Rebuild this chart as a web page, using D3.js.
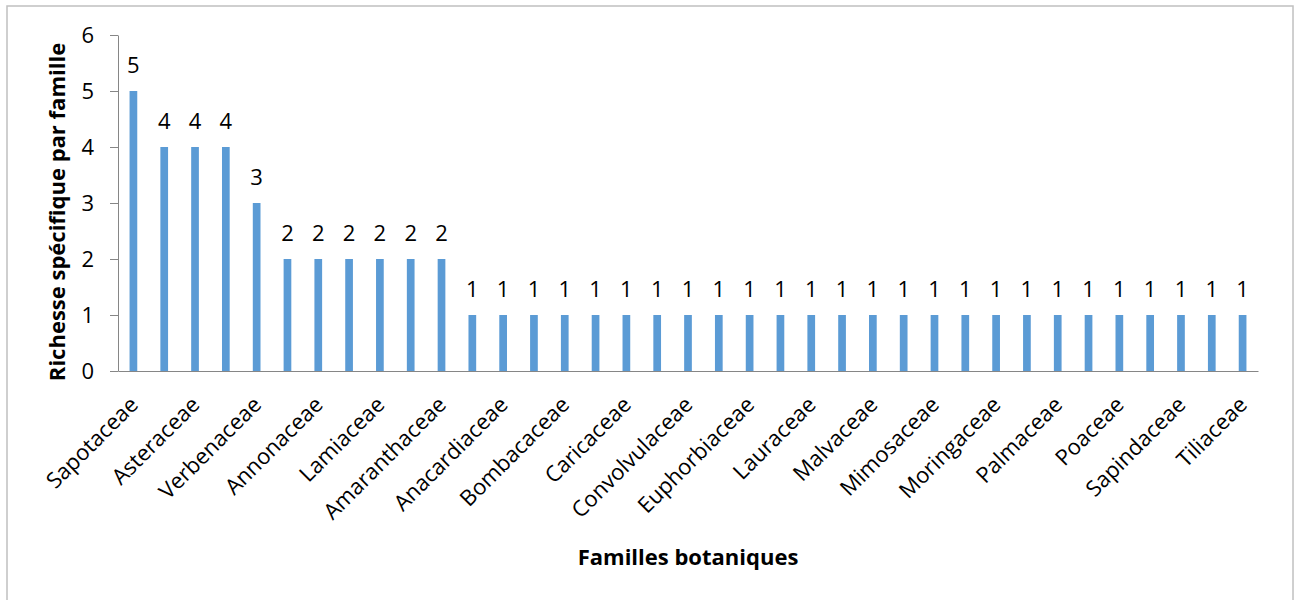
<!DOCTYPE html>
<html><head><meta charset="utf-8">
<script src="https://cdn.jsdelivr.net/npm/d3@7"></script>
<style>body{margin:0;background:#fff}svg{display:block}</style>
</head><body>
<svg id="c" width="1298" height="600"></svg>
<script>
const families = ["Sapotaceae","Fabaceae","Asteraceae","Rubiaceae","Verbenaceae","Apocynaceae","Annonaceae","Cucurbitaceae","Lamiaceae","Solanaceae","Amaranthaceae","Amaryllidaceae","Anacardiaceae","Bignoniaceae","Bombacaceae","Capparaceae","Caricaceae","Combretaceae","Convolvulaceae","Ebenaceae","Euphorbiaceae","Liliaceae","Lauraceae","Meliaceae","Malvaceae","Menispermaceae","Mimosaceae","Moraceae","Moringaceae","Myrtaceae","Palmaceae","Piperaceae","Poaceae","Rutaceae","Sapindaceae","Sterculiaceae","Tiliaceae"];
const richness = [5,4,4,4,3,2,2,2,2,2,2,1,1,1,1,1,1,1,1,1,1,1,1,1,1,1,1,1,1,1,1,1,1,1,1,1,1];
const yTicks = [0,1,2,3,4,5,6];
const xTitle = "Familles botaniques";
const yTitle = "Richesse spécifique par famille";

(function(){
const svg = d3.select("#c");
const font = "'Open Sans', 'Noto Sans', sans-serif";
const fs = 22;
svg.append("rect").attr("x",7).attr("y",6).attr("width",1286).attr("height",620)
  .attr("fill","#fff").attr("stroke","#c0c0c0").attr("stroke-width",1.5);

const mL=118, mR=1258, mT=35, mB=371;
const x = d3.scaleBand().domain(families).range([mL,mR]).paddingInner(0.75).paddingOuter(0.375);
const y = d3.scaleLinear().domain([0,6]).range([mB,mT]);

svg.append("g").selectAll("rect").data(families).join("rect")
  .attr("x",d=>x(d)).attr("width",x.bandwidth())
  .attr("y",(d,i)=>y(richness[i])).attr("height",(d,i)=>y(0)-y(richness[i]))
  .attr("fill","#5B9BD5");

svg.append("g").selectAll("text").data(families).join("text")
  .attr("x",d=>x(d)+x.bandwidth()/2).attr("y",(d,i)=>y(richness[i])-18)
  .attr("text-anchor","middle").attr("font-family",font).attr("font-size",fs).attr("fill","#000")
  .text((d,i)=>richness[i]);

const ya = svg.append("g").attr("transform",`translate(${mL},0)`)
  .call(d3.axisLeft(y).tickValues(yTicks).tickFormat(d3.format("d")).tickSize(8).tickPadding(16).tickSizeOuter(0));
ya.select(".domain").attr("stroke","#868686");
ya.selectAll(".tick line").attr("stroke","#868686");
ya.selectAll(".tick text").attr("font-family",font).attr("font-size",fs).attr("fill","#000");

const xa = svg.append("g").attr("transform",`translate(0,${mB})`)
  .call(d3.axisBottom(x).tickSize(0).tickSizeOuter(0).tickFormat((d,i)=> i%2===0 ? d : ""));
xa.select(".domain").attr("stroke","#868686");
xa.selectAll(".tick text").attr("font-family",font).attr("font-size",fs).attr("fill","#000")
  .attr("text-anchor","end").attr("dy",null).attr("y",null)
  .attr("transform","translate(6,35) rotate(-45)");

svg.append("text").attr("x",688).attr("y",565).attr("text-anchor","middle")
  .attr("font-family",font).attr("font-weight","bold").attr("font-size",fs).text(xTitle);
svg.append("text").attr("transform","translate(65,212) rotate(-90)").attr("text-anchor","middle")
  .attr("font-family",font).attr("font-weight","bold").attr("font-size",fs).text(yTitle);
})();
</script>
</body></html>
